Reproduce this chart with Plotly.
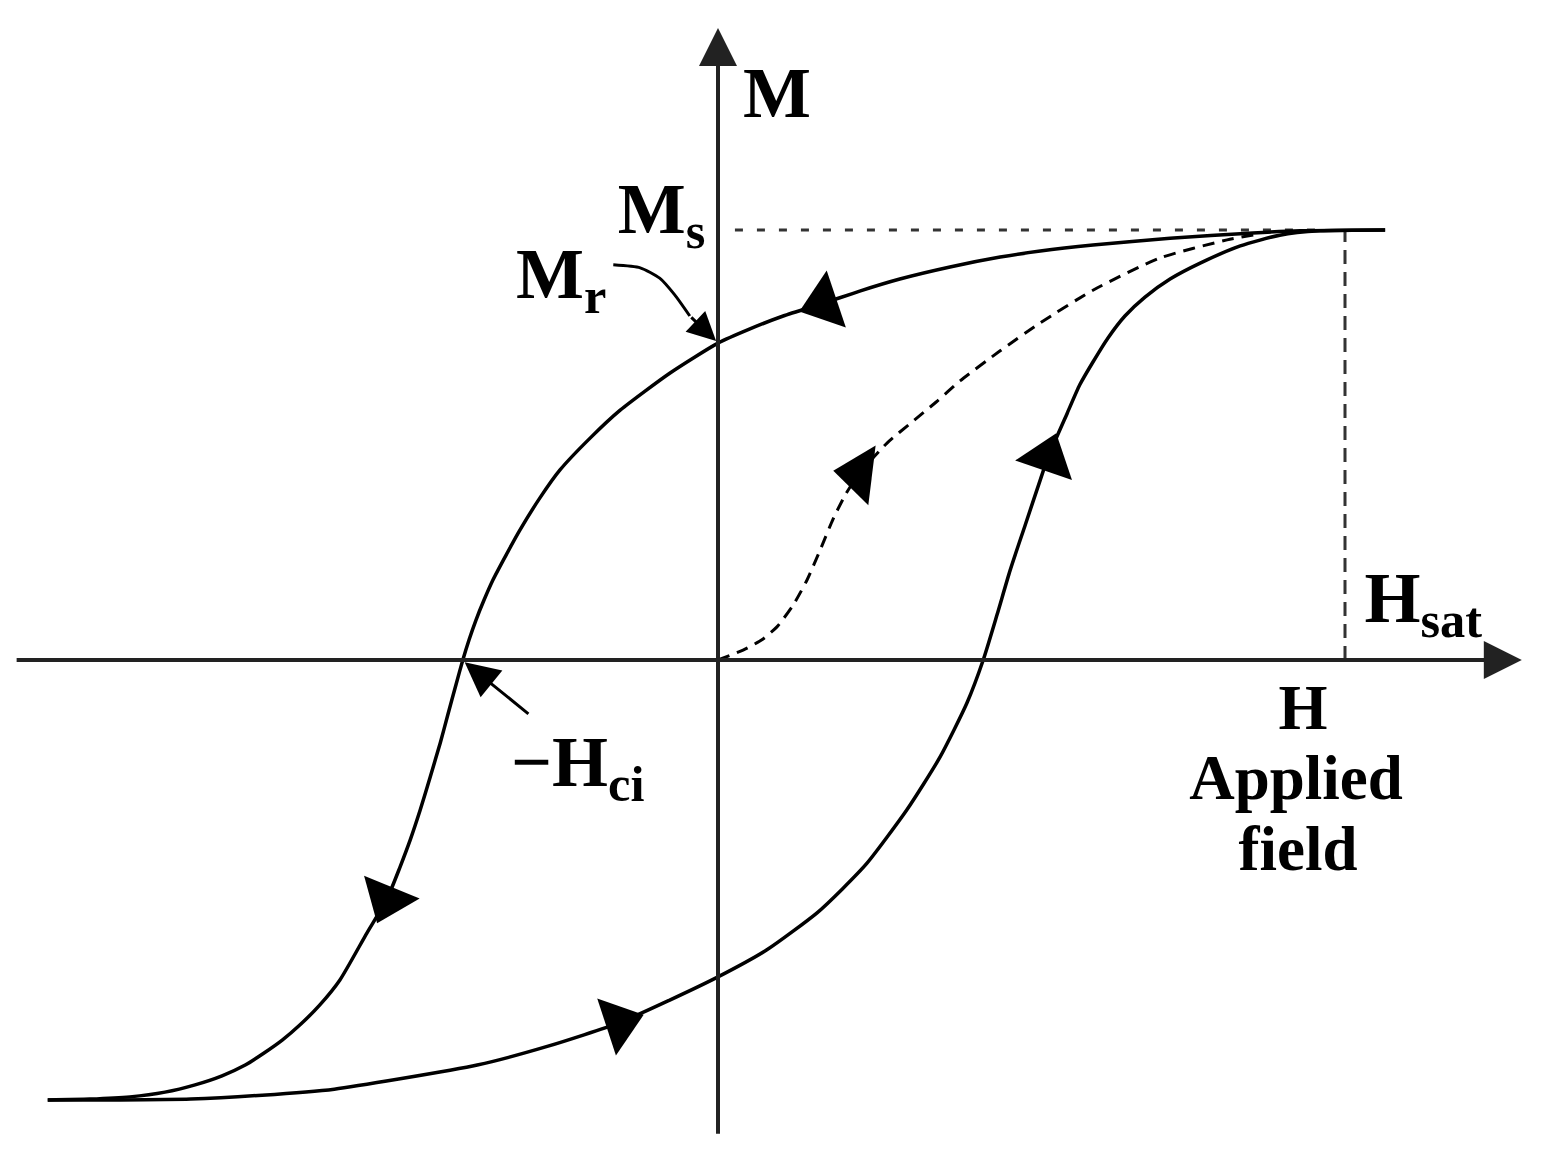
import math
import plotly.graph_objects as go

# ---- data (H in units where H_sat = 10, M in units of Ms) ----
Ms = 1.0
H_sat = 10.0
M_r = 0.737
H_ci = -4.07

# descending (upper) branch, listed in direction of travel
upper_H = [10.64, 9.28, 8.53, 7.21, 5.98, 5.14, 4.50, 3.70, 2.90, 2.26, 1.69, 1.04, 0.51, 0.0,
           -0.77, -1.56, -2.04, -2.52, -2.84, -3.16, -3.38, -3.59, -3.73, -3.86, -3.97, -4.07,
           -4.18, -4.31, -4.43, -4.59, -4.75, -4.91, -5.07, -5.28, -5.60, -6.03, -6.35, -6.67,
           -6.95, -7.24, -7.54, -7.91, -8.34, -8.82, -9.38, -10.02, -10.69]
upper_M = [1.000, 0.998, 0.993, 0.981, 0.965, 0.951, 0.937, 0.914, 0.886, 0.858, 0.830, 0.800, 0.770,
           0.737, 0.667, 0.581, 0.516, 0.442, 0.377, 0.302, 0.244, 0.186, 0.140, 0.093, 0.047, 0.0,
           -0.058, -0.128, -0.193, -0.272, -0.349, -0.419, -0.481, -0.556, -0.635, -0.744, -0.802,
           -0.849, -0.884, -0.914, -0.942, -0.967, -0.988, -1.005, -1.016, -1.021, -1.023]
upper_arrows = [10, 33]

# ascending (lower) branch
lower_H = [-10.69, -9.54, -8.41, -7.27, -6.12, -5.07, -3.84, -2.71, -1.58, -0.77, 0.0, 0.78, 1.58,
           1.98, 2.38, 3.01, 3.54, 3.97, 4.23, 4.45, 4.66, 4.90, 5.14, 5.26, 5.57, 5.77, 5.98,
           6.22, 6.49, 6.81, 7.21, 7.69, 8.33, 8.96, 9.60, 10.64]
lower_M = [-1.023, -1.023, -1.021, -1.012, -0.998, -0.974, -0.942, -0.898, -0.844, -0.791, -0.737,
           -0.674, -0.588, -0.533, -0.472, -0.349, -0.226, -0.100, 0.0, 0.105, 0.209, 0.314, 0.419,
           0.470, 0.574, 0.640, 0.693, 0.749, 0.800, 0.844, 0.886, 0.923, 0.963, 0.988, 0.998, 1.000]
lower_arrows = [8, 23]

# initial magnetisation curve (dashed)
init_H = [0.0, 0.40, 0.70, 0.94, 1.20, 1.42, 1.63, 1.83, 2.03, 2.25, 2.70, 3.09, 3.48, 3.86,
          4.50, 5.14, 5.98, 7.05, 8.12, 8.64]
init_M = [0.0, 0.023, 0.047, 0.077, 0.128, 0.186, 0.256, 0.326, 0.384, 0.433, 0.505, 0.553, 0.600,
          0.649, 0.719, 0.784, 0.860, 0.935, 0.977, 0.991]
init_arrow = 9
init_arrow_angle = -83   # the reference draws this head turned to the left

# Mr pointer curve
mr_ptr_H = [-1.67, -1.24, -0.93, -0.69, -0.45]
mr_ptr_M = [0.919, 0.912, 0.888, 0.849, 0.800]

# -Hci pointer (tail -> tip)
hci_ptr_H = [-3.00, H_ci + 0.03]
hci_ptr_M = [-0.128, -0.005]

# axes extent
axis_H = [-11.21, 12.82]
axis_M = [-1.105, 1.470]

# labels
label_text = ["M", "M<sub>s</sub>", "M<sub>r</sub>", "\u2212H<sub>ci</sub>", "H<sub>sat</sub>",
              "H", "Applied", "field"]
label_H = [0.94, -0.20, -1.78, -3.30, 10.31, 9.33, 9.22, 9.25]
label_M = [1.305, 1.036, 0.884, -0.252, 0.131, -0.124, -0.286, -0.451]
label_pos = ["middle center", "middle left", "middle left", "middle right", "middle right",
             "middle center", "middle center", "middle center"]
label_size = [72, 72, 72, 72, 72, 63, 63, 63]

# ---- layout geometry ----
W, Hh = 1542, 1171
PX_H = 62.7          # pixels per H unit
PX_M = 430.0         # pixels per M unit
ORIGIN = (718, 660)  # screen position of the origin
BODY = 8             # default page margin of the html body
xr = [(BODY - ORIGIN[0]) / PX_H, (W + BODY - ORIGIN[0]) / PX_H]
yr = [(ORIGIN[1] - Hh - BODY) / PX_M, (ORIGIN[1] - BODY) / PX_M]

LW = 3.5

fig = go.Figure()


def curve(hx, my, dash="solid", width=LW, color="black", shape="spline"):
    fig.add_trace(go.Scatter(x=hx, y=my, mode="lines",
                             line=dict(color=color, width=width, dash=dash,
                                       shape=shape, smoothing=0.6),
                             hoverinfo="skip", showlegend=False))


def heading(hx, my, i):
    dx = (hx[i] - hx[i - 1]) * PX_H
    dy = (my[i] - my[i - 1]) * PX_M
    return math.degrees(math.atan2(dx, dy))


def arrow_marker(hx, my, i, angle=None, size=52):
    ang = heading(hx, my, i) if angle is None else angle
    fig.add_trace(go.Scatter(x=[hx[i]], y=[my[i]], mode="markers",
                             marker=dict(symbol="triangle-up", size=size, color="black",
                                         opacity=1, angle=ang, line=dict(width=0)),
                             hoverinfo="skip", showlegend=False))


curve(upper_H, upper_M)
curve(lower_H, lower_M)
curve(init_H, init_M, dash="12px,8px", width=3)
curve(mr_ptr_H, mr_ptr_M, width=3)
for i in upper_arrows:
    arrow_marker(upper_H, upper_M, i)
for i in lower_arrows:
    arrow_marker(lower_H, lower_M, i)
arrow_marker(init_H, init_M, init_arrow, angle=init_arrow_angle)

# reference lines
fig.add_shape(type="line", x0=0.27, x1=9.6, y0=Ms, y1=Ms, layer="below",
              line=dict(color="#333", width=3, dash="8px,14px"))
fig.add_shape(type="line", x0=H_sat, x1=H_sat, y0=0, y1=Ms, layer="below",
              line=dict(color="#333", width=3, dash="14px,8px"))


def pointer(x_tip, y_tip, x_tail, y_tail, size, width, color="black"):
    return dict(x=x_tip, y=y_tip, ax=x_tail, ay=y_tail, axref="x", ayref="y",
                xref="x", yref="y", text="", showarrow=True, arrowhead=2,
                arrowsize=size, arrowwidth=width, arrowcolor=color, standoff=0)


anns = [
    pointer(axis_H[1], 0, axis_H[0], 0, 1.9, 4, "#222"),          # H axis
    pointer(0, axis_M[1], 0, axis_M[0], 1.9, 4, "#222"),          # M axis
    pointer(-0.03, M_r + 0.005, mr_ptr_H[-1], mr_ptr_M[-1], 1.9, 3),  # Mr pointer head
    pointer(hci_ptr_H[1], hci_ptr_M[1], hci_ptr_H[0], hci_ptr_M[0], 2.3, 3),  # -Hci pointer
]

# text labels as a text trace
fig.add_trace(go.Scatter(
    x=label_H, y=label_M, text=label_text, mode="text", textposition=label_pos,
    textfont=dict(family="Liberation Serif", size=label_size, color="black", weight="bold"),
    hoverinfo="skip", showlegend=False,
))

fig.update_layout(
    width=W, height=Hh, margin=dict(l=0, r=0, t=0, b=0),
    paper_bgcolor="white", plot_bgcolor="white",
    xaxis=dict(range=xr, visible=False, fixedrange=True),
    yaxis=dict(range=yr, visible=False, fixedrange=True),
    annotations=anns, showlegend=False,
)
fig.write_html("out.html")
